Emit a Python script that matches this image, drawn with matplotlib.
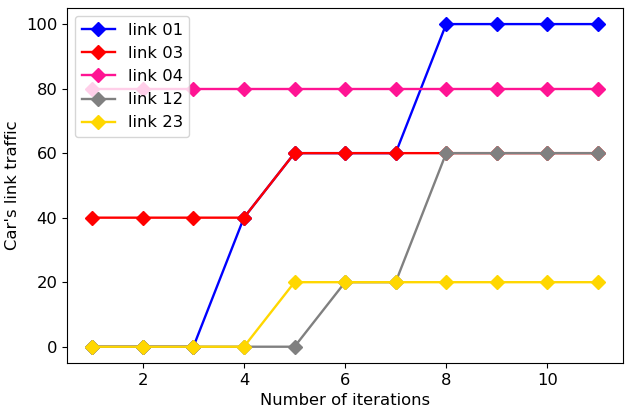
import matplotlib
matplotlib.use('Agg')
import matplotlib.pyplot as plt

iteraciones = [1, 2, 3, 4, 5, 6, 7, 8, 9, 10, 11]
link_01 = [0, 0, 0, 40, 60, 60, 60, 100, 100, 100, 100]
link_03 = [40, 40, 40, 40, 60, 60, 60, 60, 60, 60, 60]
link_04 = [80, 80, 80, 80, 80, 80, 80, 80, 80, 80, 80]
link_12 = [0, 0, 0, 0, 0, 20, 20, 60, 60, 60, 60]
link_23 = [0, 0, 0, 0, 20, 20, 20, 20, 20, 20, 20]

plt.rcParams['font.size'] = 11.8
fig = plt.figure(figsize=(6.32, 4.19), dpi=100)
ax = fig.add_axes([0.106, 0.134, 0.880, 0.847])
estilo = dict(marker='D', markersize=7, linewidth=1.7)
ax.plot(iteraciones, link_01, color='blue', label='link 01', **estilo)
ax.plot(iteraciones, link_03, color='red', label='link 03', **estilo)
ax.plot(iteraciones, link_04, color='deeppink', label='link 04', **estilo)
ax.plot(iteraciones, link_12, color='gray', label='link 12', **estilo)
ax.plot(iteraciones, link_23, color='gold', label='link 23', **estilo)
ax.set_xlabel('Number of iterations')
ax.set_ylabel("Car's link traffic")
ax.legend(loc='upper left')

plt.savefig('out.png', dpi=100)
